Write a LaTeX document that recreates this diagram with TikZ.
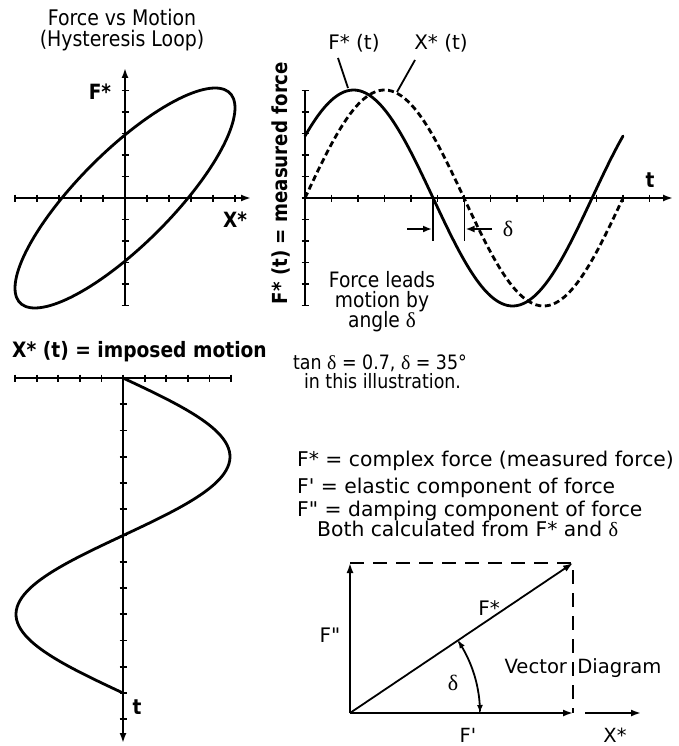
\documentclass[tikz,border=0pt]{standalone}
\usepackage{fontspec}
\setmainfont{DejaVu Sans}[FakeStretch=0.88]
\newfontfamily\verd{DejaVu Sans}
\newfontfamily\dfont{Liberation Serif}
\usetikzlibrary{arrows.meta}
\newcommand{\setfs}[1]{\fontsize{#1}{#1}\selectfont}
\newcommand{\dlt}{{\dfont δ}}
\tikzset{
  axis/.style={line width=1.8pt},
  curve/.style={line width=2.8pt, line join=round, line cap=round},
  vec/.style={line width=1.8pt},
  tip/.style={-{Latex[length=10pt,width=7pt]}},
  smalltip/.style={-{Latex[length=9pt,width=7pt]}},
  lbl/.style={inner sep=0pt, anchor=base},
  lblw/.style={inner sep=0pt, anchor=base west},
  ctr/.style={inner sep=0pt, anchor=center},
}
\begin{document}
\begin{tikzpicture}[x=1pt,y=-1pt]
\useasboundingbox (0,0) rectangle (678,746);

% ---------- Hysteresis loop ----------
\node[lbl] (title1) at (122,26) {\setfs{21.5}Force vs Motion};
\node[lbl] (title2) at (122,47) {\setfs{21.5}(Hysteresis Loop)};
\draw[axis,tip] (15,198) -- (251,198);
\foreach \k in {-5,...,5} \draw[axis] ({125+22*\k},194.5) -- ({125+22*\k},201.5);
\draw[axis,tip] (125,305.5) -- (125,68);
\foreach \k in {-5,...,5} \draw[axis] (121.5,{198+21.5*\k}) -- (128.5,{198+21.5*\k});
\draw[curve] plot[domain=0:355,samples=72,smooth cycle] ({125+110*sin(\x)},{198-110*sin(\x+35)});
\node[lbl] (lF) at (100,100) {\setfs{21}\bfseries F*};
\node[lbl] (lX) at (235,227) {\setfs{21}\bfseries X*};

% ---------- Time plot ----------
\draw[axis] (305,90.5) -- (305,305.5);
\foreach \k in {-5,...,5} \draw[axis] (301.5,{198+21.5*\k}) -- (308.5,{198+21.5*\k});
\draw[axis,tip] (305,198) -- (673,198);
\foreach \k in {1,...,13} \draw[axis] ({305+26.5*\k},194.5) -- ({305+26.5*\k},201.5);
\draw[curve] plot[domain=305:623,samples=100,smooth] (\x,{198-108*sin((\x-305)/318*360+35)});
\draw[curve,line cap=butt,dash pattern=on 6pt off 3.5pt] plot[domain=305:623,samples=100,smooth] (\x,{198-108*sin((\x-305)/318*360)});
\node[lbl] (lFt) at (354,50) {\verd\setfs{20}F* (t)};
\node[lbl] (lXt) at (441,50) {\verd\setfs{20}X* (t)};
\coordinate (cF) at (348,88);
\coordinate (cX) at (397,92);
\draw[axis] (338,58) -- (cF);
\draw[axis] (415,60) -- (cX);
\coordinate (z1) at (433,198);
\coordinate (z2) at (464.5,200);
\draw[axis] (z1) -- (433,241);
\draw[axis] (z2) -- (464.5,241);
\coordinate (a1) at (407,229);
\coordinate (a2) at (492,229);
\draw[axis,smalltip] (a1) -- (432,229);
\draw[axis,smalltip] (a2) -- (465.5,229);
\node[ctr] (ldelta) at (508,229) {\setfs{22}\dlt};
\node[lbl] (lt1) at (650,187) {\setfs{21}\bfseries t};
\node[ctr,rotate=90] (ylab) at (281,183) {\setfs{20.7}\bfseries F* (t) = measured force};
\node[lbl] (lead1) at (382,287) {\setfs{21.2}Force leads};
\node[lbl] (lead2) at (382,307) {\setfs{21.2}motion by};
\node[lbl] (lead3) at (382,327) {\setfs{21.2}angle \dlt};

% ---------- Imposed motion ----------
\node[lbl] (title3) at (139.5,357) {\setfs{21.2}\bfseries X* (t) = imposed motion};
\draw[axis] (15,378) -- (231,378);
\foreach \k in {-5,...,5} \draw[axis] ({123+21.6*\k},374.5) -- ({123+21.6*\k},381.5);
\draw[axis,tip] (123,378) -- (123,743);
\foreach \k in {1,...,13} \draw[axis] (119.5,{378+26.25*\k}) -- (126.5,{378+26.25*\k});
\draw[curve] plot[domain=378:693,samples=100,smooth] ({123+107*sin((\x-378)/315*360)},\x);
\node[lbl] (lt2) at (137,714) {\setfs{21}\bfseries t};

% ---------- Text ----------
\node[lbl] (tan) at (380,369.5) {\setfs{19.8}tan \dlt{} = 0.7, \dlt{} = 35°};
\node[lbl] (ill) at (382.5,388) {\setfs{19.8}in this illustration.};
\node[lblw] (d1) at (297,466.7) {\verd\setfs{20.3}F* = complex force (measured force)};
\node[lblw] (d2) at (297,493.3) {\verd\setfs{20.3}F' = elastic component of force};
\node[lblw] (d3) at (297,516.7) {\verd\setfs{20.3}F" = damping component of force};
\node[lblw] (d4) at (317,536) {\verd\setfs{20.3}Both calculated from F* and \dlt};

% ---------- Vector diagram ----------
\coordinate (O) at (350,713);
\coordinate (T) at (350,563);
\coordinate (R) at (573,563);
\coordinate (B) at (573,713);
\coordinate (X1) at (585,713);
\coordinate (X2) at (641,713);
\draw[vec,dash pattern=on 14pt off 9pt] (T) -- (R) -- (B);
\draw[vec,tip] (O) -- (T);
\draw[vec,tip] (O) -- (R);
\draw[vec,tip] (O) -- (B);
\draw[vec,tip] (X1) -- (X2);
\draw[vec,{Latex[length=8pt,width=6pt]}-{Latex[length=8pt,width=6pt]}] plot[domain=0:34,samples=30,smooth] ({350+130*cos(\x)},{713-130*sin(\x)});
\node[ctr] (vF2) at (330,635) {\verd\setfs{20}F"};
\node[ctr] (vFs) at (489,608.5) {\verd\setfs{20}F*};
\node[ctr] (vd) at (453,683) {\setfs{22}\dlt};
\node[ctr] (vtitle) at (583,668) {\verd\setfs{19.6}Vector\kern4pt{} Diagram};
\node[ctr] (vF1) at (468,735.5) {\verd\setfs{19.5}F'};
\node[ctr] (vX) at (615,735.5) {\verd\setfs{19.5}X*};
\end{tikzpicture}
\end{document}
